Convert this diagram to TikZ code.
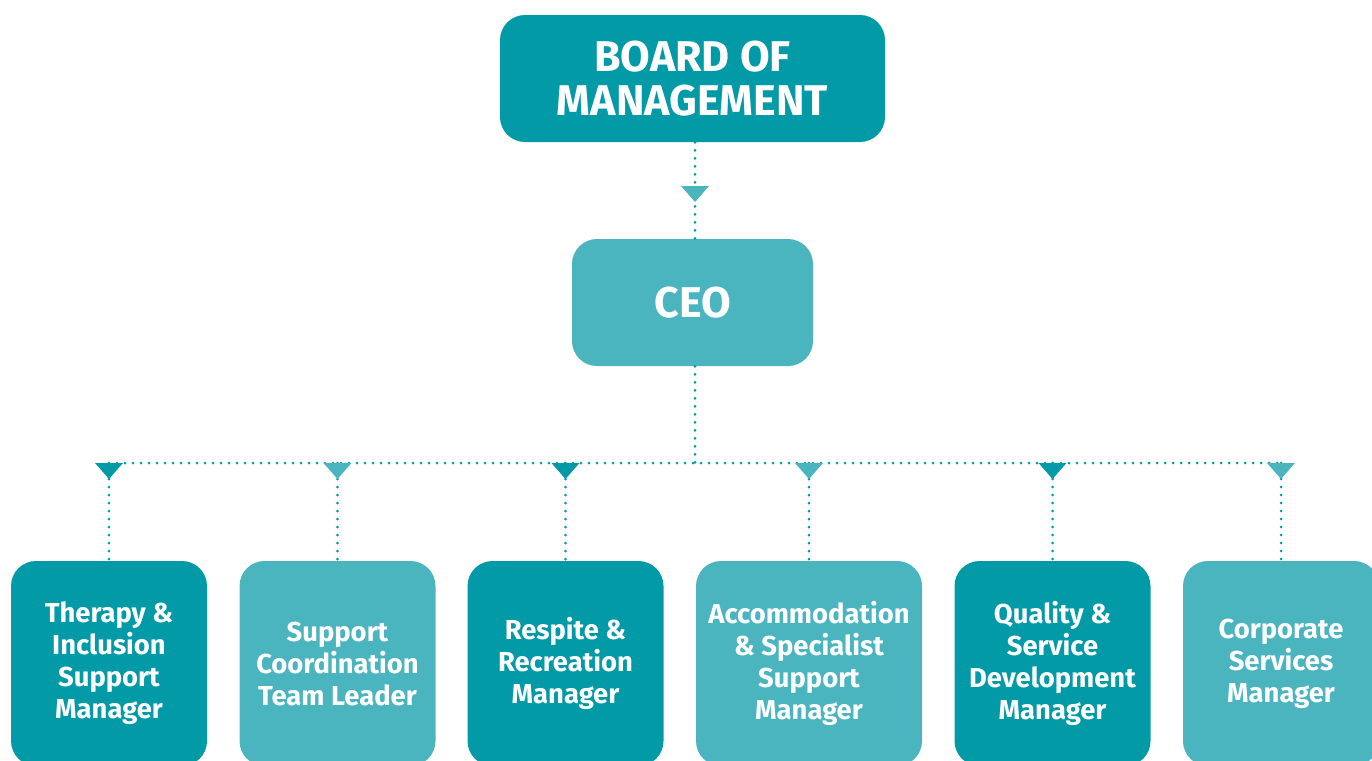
\documentclass[tikz,border=0pt]{standalone}
\usepackage{fontspec}
\setmainfont{Fira Sans}
\usepackage{tikz}
\usetikzlibrary{calc}

\definecolor{tealdark}{HTML}{039AA8}
\definecolor{teallight}{HTML}{4BB5BF}

% downward triangle hanging from a point
\newcommand{\droptri}[2]{\fill[#2] ($(#1)+(-14,0)$) -- ($(#1)+(14,0)$) -- ($(#1)+(0,16)$) -- cycle;}

\begin{document}
\begin{tikzpicture}[x=0.5pt,y=-0.5pt,
    box/.style={rounded corners=12.5pt, text=white, align=center, inner sep=0pt},
    head/.style={box, minimum height=63.5pt, font=\fontsize{21.5}{22}\selectfont\bfseries},
    unit/.style={box, minimum width=98pt, minimum height=102.5pt, font=\fontsize{13.7}{16}\selectfont\bfseries},
    link/.style={tealdark, line width=1.5pt, line cap=round, dash pattern=on 0pt off 4pt}]
    \useasboundingbox (0,0) rectangle (1372,761);
    \node[head, fill=tealdark, minimum width=192.5pt] (b) at (692.5, 78.5) {BOARD OF\\MANAGEMENT};
    \node[head, fill=teallight, minimum width=120.5pt] (c) at (692.5, 302.5) {CEO};
    \node[unit, fill=tealdark] (m1) at (109, 663.5) {Therapy \&\\Inclusion\\Support\\Manager};
    \node[unit, fill=teallight] (m2) at (337.5, 663.5) {Support\\Coordination\\Team Leader};
    \node[unit, fill=tealdark] (m3) at (565.5, 663.5) {Respite \&\\Recreation\\Manager};
    \node[unit, fill=teallight, minimum width=113pt] (m4) at (809, 663.5) {Accommodation\\\& Specialist\\Support\\Manager};
    \node[unit, fill=tealdark] (m5) at (1052.5, 663.5) {Quality \&\\Service\\Development\\Manager};
    \node[unit, fill=teallight] (m6) at (1281, 663.5) {Corporate\\Services\\Manager};
    \coordinate (t) at (695, 186);
    \coordinate (j) at (695, 463);
    \foreach \i/\x in {1/109, 2/337.5, 3/565.5, 4/809, 5/1052.5, 6/1281}
      \coordinate (s\i) at (\x, 463);
    \draw[link] (b.south -| t) -- (c.north -| t);
    \draw[link] (c.south -| j) -- (j);
    \draw[link] (s1) -- (s6);
    \foreach \i in {1,...,6}
      \draw[link] (s\i) -- (m\i);
    \droptri{t}{teallight}
    \foreach \i/\col in {1/tealdark, 2/teallight, 3/tealdark, 4/teallight, 5/tealdark, 6/teallight}
      {\droptri{s\i}{\col}}
  \end{tikzpicture}
\end{document}
